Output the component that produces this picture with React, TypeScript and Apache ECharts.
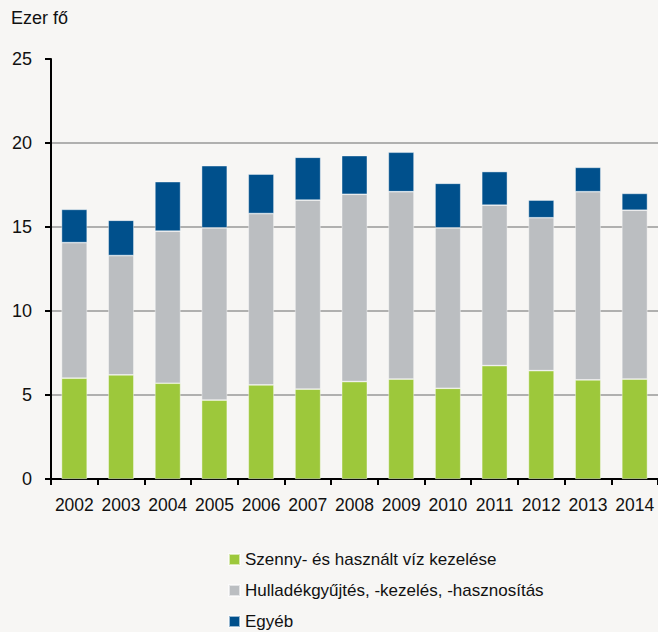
import React, { useEffect, useRef } from "react";
import * as echarts from "echarts";

const years = ["2002","2003","2004","2005","2006","2007","2008","2009","2010","2011","2012","2013","2014"];
const wastewater = [6.0, 6.2, 5.7, 4.7, 5.6, 5.35, 5.8, 5.95, 5.4, 6.75, 6.45, 5.9, 5.95];
const waste = [8.07, 7.1, 9.05, 10.25, 10.2, 11.25, 11.15, 11.15, 9.55, 9.55, 9.1, 11.2, 10.05];
const other = [1.98, 2.1, 2.95, 3.7, 2.35, 2.55, 2.3, 2.35, 2.65, 2.0, 1.05, 1.45, 1.0];
const seriesNames = ["Szenny- és használt víz kezelése", "Hulladékgyűjtés, -kezelés, -hasznosítás", "Egyéb"];
const colors = ["#9DC83B", "#BBBEC1", "#00508C"];

export default function App() {
  const ref = useRef<HTMLDivElement>(null);
  useEffect(() => {
    const chart = echarts.init(ref.current!, null, { renderer: "svg" });
    const font = "Liberation Sans, Arial, sans-serif";
    const data = [wastewater, waste, other];
    chart.setOption({
      animation: false,
      backgroundColor: "#F7F6F4",
      textStyle: { fontFamily: font },
      graphic: [
        { type: "text", left: 11, top: 9, style: { text: "Ezer fő", fontSize: 18, fill: "#111", fontFamily: font } },
      ],
      grid: { left: 51, top: 59, bottom: 153, right: -4, containLabel: false },
      legend: {
        orient: "vertical",
        left: 223,
        top: 546,
        height: 120,
        itemWidth: 11,
        itemHeight: 11,
        itemGap: 14,
        icon: "rect",
        textStyle: { fontSize: 17, color: "#111", fontFamily: font },
        data: seriesNames,
      },
      xAxis: {
        type: "category",
        data: years,
        axisLine: { lineStyle: { color: "#000", width: 2 } },
        axisTick: { show: true, alignWithLabel: false, length: 6, lineStyle: { color: "#000", width: 2 } },
        axisLabel: { color: "#111", fontSize: 17.5, margin: 17, interval: 0, fontFamily: font },
      },
      yAxis: {
        type: "value",
        min: 0,
        max: 25,
        interval: 5,
        axisLine: { show: true, lineStyle: { color: "#000", width: 2 } },
        axisTick: { show: true, length: 6, lineStyle: { color: "#000", width: 2 } },
        axisLabel: { color: "#111", fontSize: 18, margin: 19, fontFamily: font },
        splitLine: {
          show: true,
          lineStyle: { color: ["#999", "#999", "#999", "#999", "#999", "rgba(0,0,0,0)"], width: 1.5 },
        },
      },
      series: seriesNames.map((name, i) => ({
        name,
        type: "bar",
        stack: "total",
        data: data[i],
        barWidth: "55%",
        itemStyle: { color: colors[i], borderColor: "rgba(255,255,255,0.6)", borderWidth: 0.7 },
      })),
    });
    return () => chart.dispose();
  }, []);
  return <div ref={ref} style={{ width: 658, height: 632, position: "absolute", left: 0, top: 0 }} />;
}
